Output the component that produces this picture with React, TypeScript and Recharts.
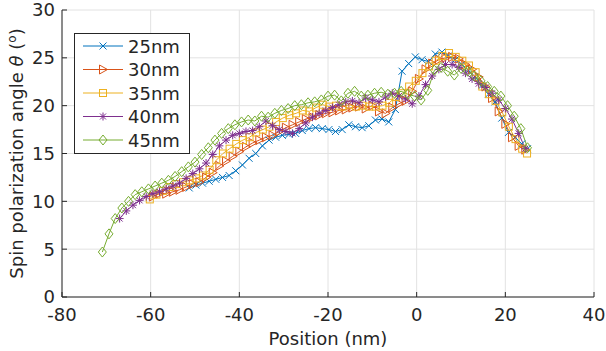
import { LineChart, Line, XAxis, YAxis, CartesianGrid, Legend } from 'recharts';

// x positions (nm) and spin polarization angle (deg) per thickness
const x25 = [
  -51.3, -49.8, -48.3, -46.8, -45.3, -43.8, -42.3, -40.8, -39.3, -37.8, -36.3, -34.8, -33.3,
  -31.8, -30.3, -28.8, -27.3, -25.8, -24.3, -22.8, -21.3, -19.8, -18.3, -16.8, -15.3, -13.8,
  -12.3, -10.8, -9.3, -7.8, -6.3, -4.8, -3.3, -1.8, -0.3, 1.2, 2.7, 4.2, 5.7, 7.2, 8.7, 10.2,
  11.7, 13.2, 14.7, 16.2, 17.7, 19.2, 20.7, 22.2, 23.7, 25,
];
const y25 = [
  11.4, 11.7, 11.9, 12.1, 12.3, 12.5, 12.7, 13.2, 13.8, 14.5, 15.0, 15.8, 16.4, 16.7, 16.9,
  17.0, 17.1, 17.4, 17.6, 17.7, 17.6, 17.5, 17.3, 17.5, 18.0, 17.8, 17.7, 17.9, 18.5, 18.6,
  18.3, 19.6, 23.6, 24.4, 25.1, 24.8, 24.6, 25.4, 25.6, 25.2, 24.8, 24.3, 23.7, 23.0, 22.1,
  21.2, 20.4, 18.7, 17.2, 16.7, 16.0, 15.5,
];

const x30 = [
  -59.5, -58, -56.5, -55, -53.5, -52, -50.5, -49, -47.5, -46, -44.5, -43, -41.5, -40, -38.5,
  -37, -35.5, -34, -32.5, -31, -29.5, -28, -26.5, -25, -23.5, -22, -20.5, -19, -17.5, -16,
  -14.5, -13, -11.5, -10, -8.5, -7, -5.5, -4, -2.5, -1, 0.5, 2, 3.5, 5, 6.5, 8, 9.5, 11, 12.5,
  14, 15.5, 17, 18.5, 20, 21.5, 23, 24.5,
];
const y30 = [
  10.5, 10.8, 10.8, 11.0, 11.2, 11.5, 11.8, 12.0, 12.5, 13.0, 13.7, 14.2, 14.7, 15.2, 15.7,
  16.1, 16.4, 16.7, 16.9, 17.3, 17.7, 18.0, 18.3, 18.6, 18.8, 19.0, 19.2, 19.3, 19.5, 19.6,
  19.8, 19.9, 19.7, 20.0, 19.4, 19.2, 19.8, 20.2, 20.5, 21.5, 22.8, 23.8, 24.4, 24.8, 25.0,
  25.1, 24.9, 24.3, 23.8, 23.0, 22.0, 20.8, 19.4, 18.1, 16.7, 15.8, 15.4,
];

const x35 = [
  -60.2, -58.7, -57.2, -55.7, -54.2, -52.7, -51.2, -49.7, -48.2, -46.7, -45.2, -43.7, -42.2,
  -40.7, -39.2, -37.7, -36.2, -34.7, -33.2, -31.7, -30.2, -28.7, -27.2, -25.7, -24.2, -22.7,
  -21.2, -19.7, -18.2, -16.7, -15.2, -13.7, -12.2, -10.7, -9.2, -7.7, -6.2, -4.7, -3.2, -1.7,
  -0.2, 1.3, 2.8, 4.3, 5.8, 7.3, 8.8, 10.3, 11.8, 13.3, 14.8, 16.3, 17.8, 19.3, 20.8, 22.3,
  23.8, 24.9,
];
const y35 = [
  10.2, 10.7, 11.1, 11.5, 11.8, 12.0, 12.2, 12.4, 12.7, 13.3, 14.3, 15.0, 15.5, 16.0, 16.4,
  16.7, 17.2, 17.5, 17.8, 18.3, 18.7, 19.0, 19.2, 19.5, 19.4, 19.8, 20.1, 19.9, 20.0, 19.9,
  20.1, 19.9, 20.0, 19.9, 19.9, 20.0, 20.3, 20.9, 21.3, 22.0, 22.6, 23.4, 24.1, 24.7, 25.2,
  25.5, 25.1, 24.7, 24.2, 23.5, 22.0, 21.2, 20.5, 19.3, 17.8, 16.5, 15.5, 15.0,
];

const x40 = [
  -67, -65.5, -64, -62.5, -61, -59.5, -58, -56.5, -55, -53.5, -52, -50.5, -49, -47.5, -46,
  -44.5, -43, -41.5, -40, -38.5, -37, -35.5, -34, -32.5, -31, -29.5, -28, -26.5, -25, -23.5,
  -22, -20.5, -19, -17.5, -16, -14.5, -13, -11.5, -10, -8.5, -7, -5.5, -4, -2.5, -1, 0.5, 2,
  3.5, 5, 6.5, 8, 9.5, 11, 12.5, 14, 15.5, 17, 18.5, 20, 21.5, 23, 24.5,
];
const y40 = [
  8.2, 9.0, 9.6, 10.1, 10.5, 10.8, 11.0, 11.3, 11.6, 11.9, 12.4, 12.9, 13.4, 14.0, 14.9,
  15.8, 16.4, 16.9, 17.1, 17.3, 17.4, 17.8, 18.4, 17.9, 17.5, 17.3, 17.1, 17.6, 18.2, 18.8,
  19.2, 19.5, 19.8, 20.1, 20.4, 20.5, 20.3, 20.8, 20.6, 20.4, 20.9, 21.3, 21.0, 20.7, 20.2,
  21.0, 22.2, 23.1, 23.8, 24.3, 24.3, 24.0, 23.4, 22.8, 22.3, 21.9, 21.3, 20.6, 19.7, 18.6,
  17.1, 15.5,
];

const x45 = [
  -70.9, -69.4, -68, -66.5, -65, -63.5, -62, -60.5, -59, -57.5, -56, -54.5, -53, -51.5, -50,
  -48.5, -47, -45.5, -44, -42.5, -41, -39.5, -38, -36.5, -35, -33.5, -32, -30.5, -29, -27.5,
  -26, -24.5, -23, -21.5, -20, -18.5, -17, -15.5, -14, -12.5, -11, -9.5, -8, -6.5, -5, -3.5,
  -2, -0.5, 1, 2.5, 4, 5.5, 7, 8.5, 10, 11.5, 13, 14.5, 16, 17.5, 19, 20.5, 22, 23.5, 25,
];
const y45 = [
  4.7, 6.6, 8.2, 9.3, 10.0, 10.7, 11.0, 11.3, 11.6, 11.9, 12.2, 12.6, 13.1, 13.6, 14.1, 14.9,
  15.6, 16.4, 17.1, 17.6, 18.0, 18.3, 18.5, 18.4, 18.9, 18.8, 19.2, 19.5, 19.7, 20.0, 20.1,
  20.3, 20.4, 20.6, 21.0, 21.1, 20.5, 21.3, 21.5, 21.0, 21.1, 21.3, 21.4, 21.2, 21.3, 21.5,
  21.2, 21.0, 20.6, 21.6, 23.7, 24.0, 23.6, 23.2, 23.9, 23.6, 23.1, 22.6, 22.0, 21.5, 21.0,
  20.0, 18.9, 17.6, 15.6,
];

const xTicks = [-80, -60, -40, -20, 0, 20, 40];
const yTicks = [0, 5, 10, 15, 20, 25, 30];

const FONT = 'DejaVu Sans';
const INK = '#262626';

type MarkerKind = 'x' | 'triangle' | 'square' | 'star' | 'diamond';

const toPoints = (xs: number[], ys: number[]) => xs.map((x, i) => ({ x, y: ys[i] }));

const series: { name: string; color: string; marker: MarkerKind; data: { x: number; y: number }[] }[] = [
  { name: '25nm', color: '#0072BD', marker: 'x', data: toPoints(x25, y25) },
  { name: '30nm', color: '#D95319', marker: 'triangle', data: toPoints(x30, y30) },
  { name: '35nm', color: '#EDB120', marker: 'square', data: toPoints(x35, y35) },
  { name: '40nm', color: '#7E2F8E', marker: 'star', data: toPoints(x40, y40) },
  { name: '45nm', color: '#77AC30', marker: 'diamond', data: toPoints(x45, y45) },
];

function Marker({ kind, cx, cy, color }: { kind: MarkerKind; cx: number; cy: number; color: string }) {
  const common = { stroke: color, strokeWidth: 1, fill: 'none' };
  switch (kind) {
    case 'x':
      return (
        <g {...common}>
          <line x1={cx - 3.5} y1={cy - 3.5} x2={cx + 3.5} y2={cy + 3.5} />
          <line x1={cx - 3.5} y1={cy + 3.5} x2={cx + 3.5} y2={cy - 3.5} />
        </g>
      );
    case 'triangle':
      return <polygon {...common} points={`${cx - 3.5},${cy - 4.5} ${cx + 4.5},${cy} ${cx - 3.5},${cy + 4.5}`} />;
    case 'square':
      return <rect {...common} x={cx - 3.5} y={cy - 3.5} width={7} height={7} />;
    case 'star':
      return (
        <g {...common}>
          <line x1={cx - 4} y1={cy} x2={cx + 4} y2={cy} />
          <line x1={cx} y1={cy - 4} x2={cx} y2={cy + 4} />
          <line x1={cx - 3} y1={cy - 3} x2={cx + 3} y2={cy + 3} />
          <line x1={cx - 3} y1={cy + 3} x2={cx + 3} y2={cy - 3} />
        </g>
      );
    default:
      return <polygon {...common} points={`${cx},${cy - 5} ${cx + 4},${cy} ${cx},${cy + 5} ${cx - 4},${cy}`} />;
  }
}

function LegendBox() {
  return (
    <svg width={116} height={121} style={{ display: 'block' }}>
      <rect x={0.5} y={0.5} width={115} height={120} fill="#fff" stroke={INK} />
      {series.map((s, i) => {
        const cy = 13 + i * 23.5;
        return (
          <g key={s.name}>
            <line x1={9} x2={49} y1={cy} y2={cy} stroke={s.color} strokeWidth={1} />
            <Marker kind={s.marker} cx={29} cy={cy} color={s.color} />
            <text x={54} y={cy + 6.5} fontFamily={FONT} fontSize={18} fill={INK}>
              {s.name}
            </text>
          </g>
        );
      })}
    </svg>
  );
}

function YLabel({ viewBox }: any) {
  const cx = (viewBox?.x ?? 0) + 23;
  const cy = (viewBox?.y ?? 0) + (viewBox?.height ?? 0) / 2;
  return (
    <text
      x={cx}
      y={cy}
      transform={`rotate(-90, ${cx}, ${cy})`}
      textAnchor="middle"
      fontFamily={FONT}
      fontSize={18}
      fill={INK}
    >
      Spin polarization angle <tspan fontStyle="italic">θ</tspan> (
      <tspan fontSize={12} dy={-7}>o</tspan>
      <tspan dy={7}>)</tspan>
    </text>
  );
}

const tickStyle = { fontSize: 18, fill: INK, fontFamily: FONT };

export default function App() {
  return (
    <div style={{ position: 'absolute', left: 0, top: 0, background: '#fff' }}>
      <LineChart width={606} height={351} margin={{ top: 10, right: 12, left: 0, bottom: 0 }}>
        <CartesianGrid stroke="#e2e2e2" />
        <XAxis
          dataKey="x"
          type="number"
          domain={[-80, 40]}
          ticks={xTicks}
          interval={0}
          height={54}
          tickSize={-5}
          tickMargin={16}
          stroke={INK}
          tick={tickStyle}
          label={{ value: 'Position (nm)', position: 'insideBottom', offset: 6, fill: INK, fontSize: 18, fontFamily: FONT }}
        />
        <XAxis
          xAxisId="top"
          orientation="top"
          type="number"
          domain={[-80, 40]}
          ticks={xTicks}
          interval={0}
          height={0}
          tickSize={-5}
          stroke={INK}
          tickFormatter={() => ''}
        />
        <YAxis
          type="number"
          domain={[0, 30]}
          ticks={yTicks}
          interval={0}
          width={62}
          tickSize={-5}
          tickMargin={12}
          stroke={INK}
          tick={tickStyle}
          label={<YLabel />}
        />
        <YAxis
          yAxisId="right"
          orientation="right"
          type="number"
          domain={[0, 30]}
          ticks={yTicks}
          interval={0}
          width={0}
          tickSize={-5}
          stroke={INK}
          tickFormatter={() => ''}
        />
        <Legend
          layout="vertical"
          align="center"
          verticalAlign="middle"
          wrapperStyle={{ left: 74, top: 33, width: 116, height: 121 }}
          content={() => <LegendBox />}
        />
        {series.map((s) => (
          <Line
            key={s.name}
            data={s.data}
            dataKey="y"
            name={s.name}
            type="linear"
            stroke={s.color}
            strokeWidth={1}
            isAnimationActive={false}
            dot={(p: any) => (
              <Marker key={`${s.name}-${p.index}`} kind={s.marker} cx={p.cx} cy={p.cy} color={s.color} />
            )}
            activeDot={false}
          />
        ))}
      </LineChart>
    </div>
  );
}
